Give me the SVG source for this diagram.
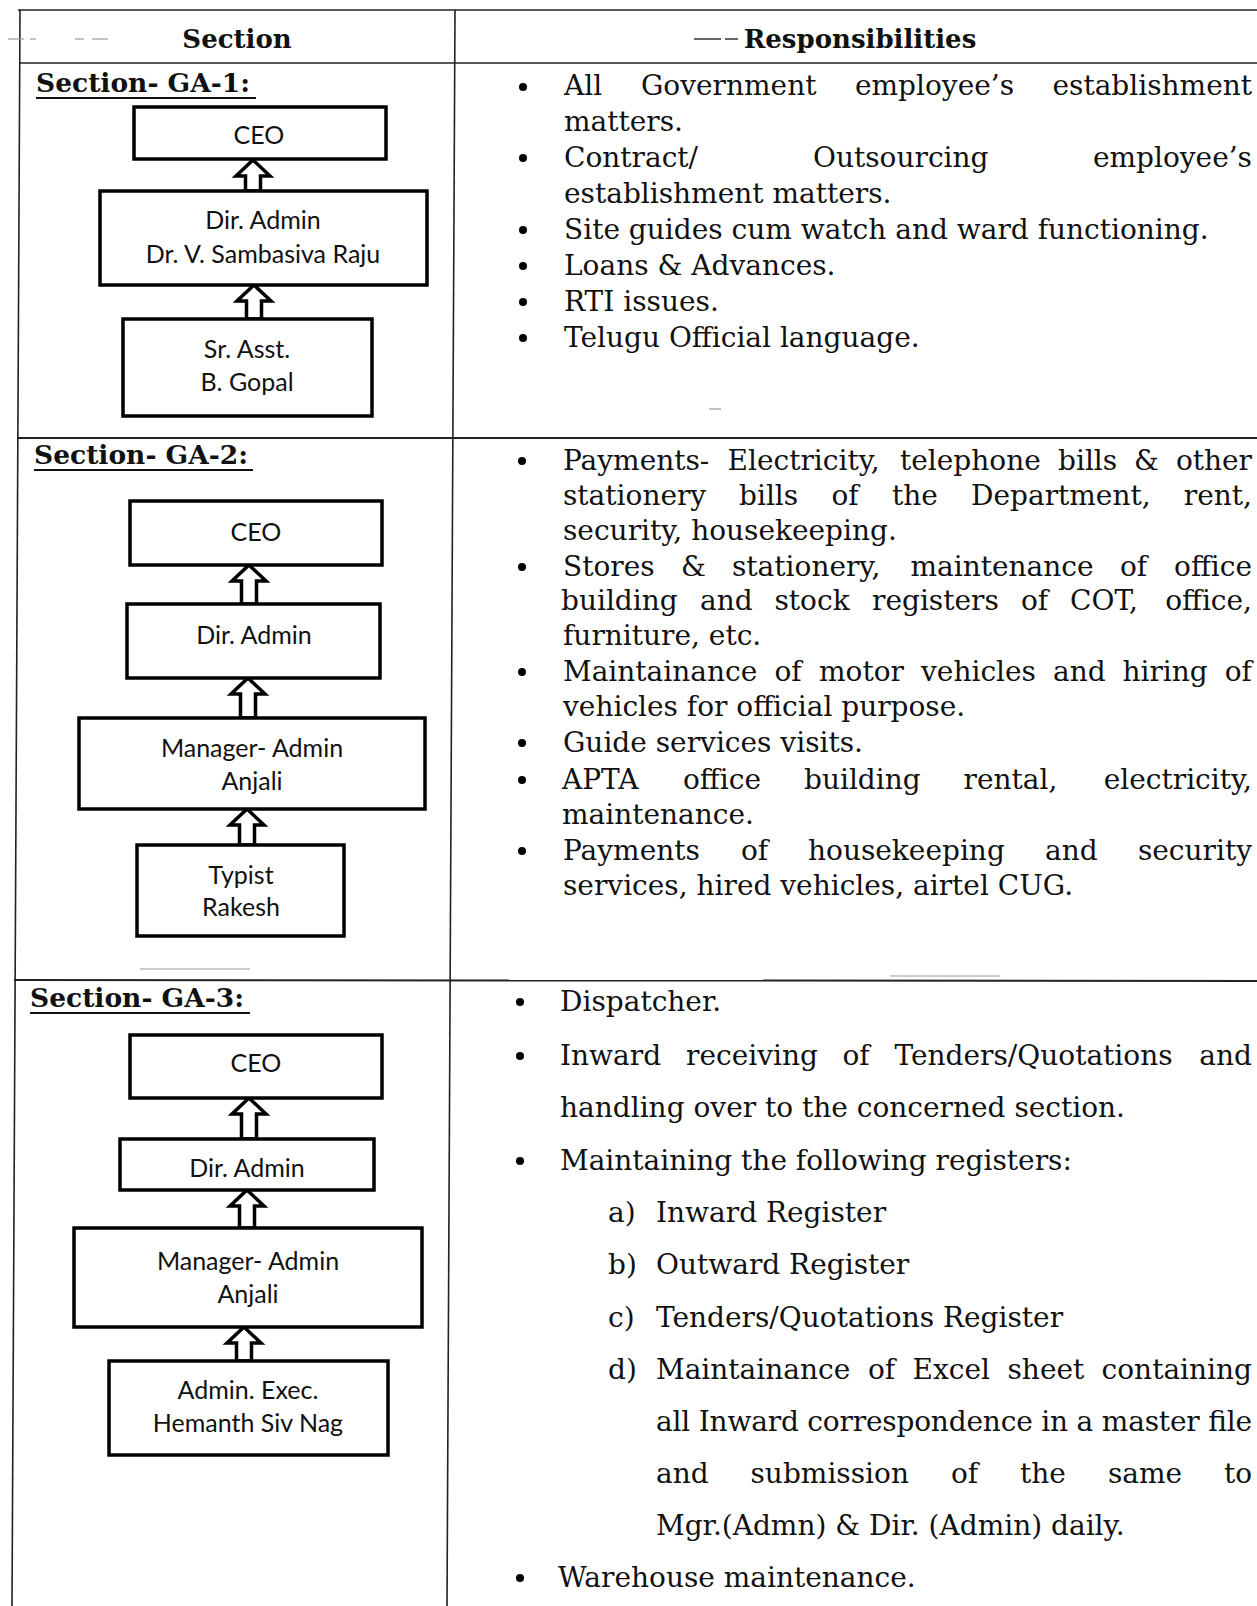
<svg xmlns="http://www.w3.org/2000/svg" width="1257" height="1606" viewBox="0 0 1257 1606">
<style>
.grid{stroke:#222;stroke-width:1.6;fill:none}
.faint{stroke:#999;stroke-width:1.2;fill:none}
.box{fill:#fff;stroke:#000;stroke-width:3.5}
.bt{font-family:Lato,"Open Sans",sans-serif;font-size:25px;fill:#111;text-anchor:middle}
.hd{font-family:"DejaVu Serif",serif;font-size:26px;font-weight:bold;fill:#111}
.sec{font-family:"DejaVu Serif",serif;font-size:26.5px;font-weight:bold;fill:#111}
.tx{font-family:"DejaVu Serif",serif;font-size:28px;fill:#111}
.end{text-anchor:end}
.arr{fill:#fff;stroke:#000;stroke-width:3.5;stroke-linejoin:miter}
.ul{stroke:#111;stroke-width:2}
</style>

<g id="table">
  <line class="grid" x1="18" y1="10" x2="1257" y2="10"/>
  <line class="grid" x1="20" y1="10" x2="12" y2="1606"/>
  <line class="grid" x1="455" y1="10" x2="447" y2="1606"/>
  <line class="grid" x1="19" y1="63" x2="1257" y2="63"/>
  <line class="grid" x1="17" y1="438" x2="1257" y2="438" style="stroke-width:2"/>
  <line class="grid" x1="14" y1="980" x2="1257" y2="981" style="stroke-width:2"/>
  <line class="faint" x1="8" y1="39" x2="24" y2="39"/>
  <line class="faint" x1="30" y1="39" x2="36" y2="39"/>
  <line class="faint" x1="75" y1="39" x2="84" y2="39"/>
  <line class="faint" x1="92" y1="39" x2="108" y2="39"/>
  <line class="faint" x1="140" y1="969" x2="250" y2="969"/>
  <line class="faint" x1="890" y1="976" x2="1000" y2="976"/>
  <line class="faint" x1="709" y1="409" x2="721" y2="409"/>
</g>

<g id="header">
  <text class="hd" x="237" y="48" text-anchor="middle">Section</text>
  <line x1="694" y1="39" x2="721" y2="39" stroke="#333" stroke-width="1.5"/>
  <line x1="725" y1="39" x2="738" y2="39" stroke="#333" stroke-width="1.5"/>
  <text class="hd" x="860" y="48" text-anchor="middle">Responsibilities</text>
</g>

<g id="connectors">
  <path class="arr" d="M253 160 L270 176 L260.5 176 L260.5 191 L245.5 191 L245.5 176 L236 176 Z"/>
  <path class="arr" d="M254 285 L271 301 L261.5 301 L261.5 319 L246.5 319 L246.5 301 L237 301 Z"/>
  <path class="arr" d="M249 565 L266 581 L256.5 581 L256.5 604 L241.5 604 L241.5 581 L232 581 Z"/>
  <path class="arr" d="M248 678 L265 694 L255.5 694 L255.5 718 L240.5 718 L240.5 694 L231 694 Z"/>
  <path class="arr" d="M247 809 L264 825 L254.5 825 L254.5 845 L239.5 845 L239.5 825 L230 825 Z"/>
  <path class="arr" d="M249 1098 L266 1114 L256.5 1114 L256.5 1139 L241.5 1139 L241.5 1114 L232 1114 Z"/>
  <path class="arr" d="M247 1190 L264 1206 L254.5 1206 L254.5 1228 L239.5 1228 L239.5 1206 L230 1206 Z"/>
  <path class="arr" d="M244 1327 L261 1343 L251.5 1343 L251.5 1361 L236.5 1361 L236.5 1343 L227 1343 Z"/>
</g>

<g id="ga1">
  <text class="sec" x="36" y="92">Section- GA-1:</text>
  <line class="ul" x1="36" y1="98" x2="256" y2="98"/>
  <g id="ga1-ceo"><rect class="box" x="134" y="107" width="252" height="52"/><text class="bt" x="259" y="144">CEO</text></g>
  <g id="ga1-dir"><rect class="box" x="100" y="191" width="327" height="94"/><text class="bt" x="263" y="229">Dir. Admin</text><text class="bt" x="263" y="263">Dr. V. Sambasiva Raju</text></g>
  <g id="ga1-sr"><rect class="box" x="123" y="319" width="249" height="97"/><text class="bt" x="247" y="358">Sr. Asst.</text><text class="bt" x="247" y="391">B. Gopal</text></g>
</g>

<g id="ga2">
  <text class="sec" x="34" y="464">Section- GA-2:</text>
  <line class="ul" x1="34" y1="470" x2="253" y2="470"/>
  <g id="ga2-ceo"><rect class="box" x="130" y="501" width="252" height="64"/><text class="bt" x="256" y="541">CEO</text></g>
  <g id="ga2-dir"><rect class="box" x="127" y="604" width="253" height="74"/><text class="bt" x="254" y="644">Dir. Admin</text></g>
  <g id="ga2-mgr"><rect class="box" x="79" y="718" width="346" height="91"/><text class="bt" x="252" y="757">Manager- Admin</text><text class="bt" x="252" y="790">Anjali</text></g>
  <g id="ga2-typ"><rect class="box" x="137" y="845" width="207" height="91"/><text class="bt" x="241" y="884">Typist</text><text class="bt" x="241" y="916">Rakesh</text></g>
</g>

<g id="ga3">
  <text class="sec" x="30" y="1007">Section- GA-3:</text>
  <line class="ul" x1="30" y1="1013" x2="250" y2="1013"/>
  <g id="ga3-ceo"><rect class="box" x="130" y="1035" width="252" height="63"/><text class="bt" x="256" y="1072">CEO</text></g>
  <g id="ga3-dir"><rect class="box" x="120" y="1139" width="254" height="51"/><text class="bt" x="247" y="1177">Dir. Admin</text></g>
  <g id="ga3-mgr"><rect class="box" x="74" y="1228" width="348" height="99"/><text class="bt" x="248" y="1270">Manager- Admin</text><text class="bt" x="248" y="1303">Anjali</text></g>
  <g id="ga3-exe"><rect class="box" x="109" y="1361" width="279" height="94"/><text class="bt" x="248" y="1399">Admin. Exec.</text><text class="bt" x="248" y="1432">Hemanth Siv Nag</text></g>
</g>

<g id="resp1">
  <circle cx="523" cy="87" r="4"/><circle cx="523" cy="158" r="4"/><circle cx="523" cy="230" r="4"/><circle cx="523" cy="266" r="4"/><circle cx="523" cy="302" r="4"/><circle cx="523" cy="338" r="4"/>
  <text class="tx" y="95"><tspan x="564">All</tspan><tspan x="641">Government</tspan><tspan x="855">employee’s</tspan></text>
  <text class="tx end" x="1252" y="95">establishment</text>
  <text class="tx" x="564" y="131">matters.</text>
  <text class="tx" y="167"><tspan x="564">Contract/</tspan><tspan x="813">Outsourcing</tspan></text>
  <text class="tx end" x="1252" y="167">employee’s</text>
  <text class="tx" x="564" y="203">establishment matters.</text>
  <text class="tx" x="564" y="239">Site guides cum watch and ward functioning.</text>
  <text class="tx" x="564" y="275">Loans &amp; Advances.</text>
  <text class="tx" x="564" y="311">RTI issues.</text>
  <text class="tx" x="564" y="347">Telugu Official language.</text>
</g>

<g id="resp2">
  <circle cx="522" cy="461" r="4"/><circle cx="522" cy="567" r="4"/><circle cx="522" cy="672" r="4"/><circle cx="522" cy="743" r="4"/><circle cx="522" cy="780" r="4"/><circle cx="522" cy="851" r="4"/>
  <text class="tx" y="470"><tspan x="563">Payments-</tspan><tspan x="727.5">Electricity,</tspan><tspan x="900">telephone</tspan><tspan x="1058">bills</tspan><tspan x="1134">&amp;</tspan></text>
  <text class="tx end" x="1252" y="470">other</text>
  <text class="tx" y="505"><tspan x="563">stationery</tspan><tspan x="739">bills</tspan><tspan x="831.5">of</tspan><tspan x="892">the</tspan><tspan x="971">Department,</tspan></text>
  <text class="tx end" x="1252" y="505">rent,</text>
  <text class="tx" x="563" y="540">security, housekeeping.</text>
  <text class="tx" y="576"><tspan x="563">Stores</tspan><tspan x="681">&amp;</tspan><tspan x="732">stationery,</tspan><tspan x="910.5">maintenance</tspan><tspan x="1120">of</tspan></text>
  <text class="tx end" x="1252" y="576">office</text>
  <text class="tx" y="610"><tspan x="561">building</tspan><tspan x="700">and</tspan><tspan x="774.5">stock</tspan><tspan x="872">registers</tspan><tspan x="1021">of</tspan><tspan x="1070">COT,</tspan></text>
  <text class="tx end" x="1252" y="610">office,</text>
  <text class="tx" x="563" y="645">furniture, etc.</text>
  <text class="tx" y="681"><tspan x="563">Maintainance</tspan><tspan x="774.5">of</tspan><tspan x="819">motor</tspan><tspan x="921">vehicles</tspan><tspan x="1053">and</tspan><tspan x="1122.5">hiring</tspan></text>
  <text class="tx end" x="1252" y="681">of</text>
  <text class="tx" x="563" y="716">vehicles for official purpose.</text>
  <text class="tx" x="563" y="752">Guide services visits.</text>
  <text class="tx" y="789"><tspan x="562">APTA</tspan><tspan x="683">office</tspan><tspan x="804">building</tspan><tspan x="963.5">rental,</tspan></text>
  <text class="tx end" x="1252" y="789">electricity,</text>
  <text class="tx" x="562" y="824">maintenance.</text>
  <text class="tx" y="860"><tspan x="563">Payments</tspan><tspan x="741">of</tspan><tspan x="808">housekeeping</tspan><tspan x="1045">and</tspan></text>
  <text class="tx end" x="1252" y="860">security</text>
  <text class="tx" x="563" y="895">services, hired vehicles, airtel CUG.</text>
</g>

<g id="resp3">
  <circle cx="520" cy="1002" r="4"/><circle cx="520" cy="1056" r="4"/><circle cx="520" cy="1161" r="4"/><circle cx="520" cy="1578" r="4"/>
  <text class="tx" x="560" y="1011">Dispatcher.</text>
  <text class="tx" y="1065"><tspan x="560">Inward</tspan><tspan x="686">receiving</tspan><tspan x="842.5">of</tspan><tspan x="894.5">Tenders/Quotations</tspan></text>
  <text class="tx end" x="1252" y="1065">and</text>
  <text class="tx" x="560" y="1117">handling over to the concerned section.</text>
  <text class="tx" x="560" y="1170">Maintaining the following registers:</text>
  <text class="tx" x="608" y="1222">a)</text><text class="tx" x="656" y="1222">Inward Register</text>
  <text class="tx" x="608" y="1274">b)</text><text class="tx" x="656" y="1274">Outward Register</text>
  <text class="tx" x="608" y="1327">c)</text><text class="tx" x="656" y="1327">Tenders/Quotations Register</text>
  <text class="tx" x="608" y="1379">d)</text>
  <text class="tx" y="1379"><tspan x="656">Maintainance</tspan><tspan x="868">of</tspan><tspan x="912.5">Excel</tspan><tspan x="1007.5">sheet</tspan></text>
  <text class="tx end" x="1252" y="1379">containing</text>
  <text class="tx" x="656" y="1431" textLength="596" lengthAdjust="spacing">all Inward correspondence in a master file</text>
  <text class="tx" y="1483"><tspan x="656">and</tspan><tspan x="750.5">submission</tspan><tspan x="951">of</tspan><tspan x="1020">the</tspan><tspan x="1108">same</tspan></text>
  <text class="tx end" x="1252" y="1483">to</text>
  <text class="tx" x="656" y="1535">Mgr.(Admn) &amp; Dir. (Admin) daily.</text>
  <text class="tx" x="558" y="1587">Warehouse maintenance.</text>
</g>
</svg>
